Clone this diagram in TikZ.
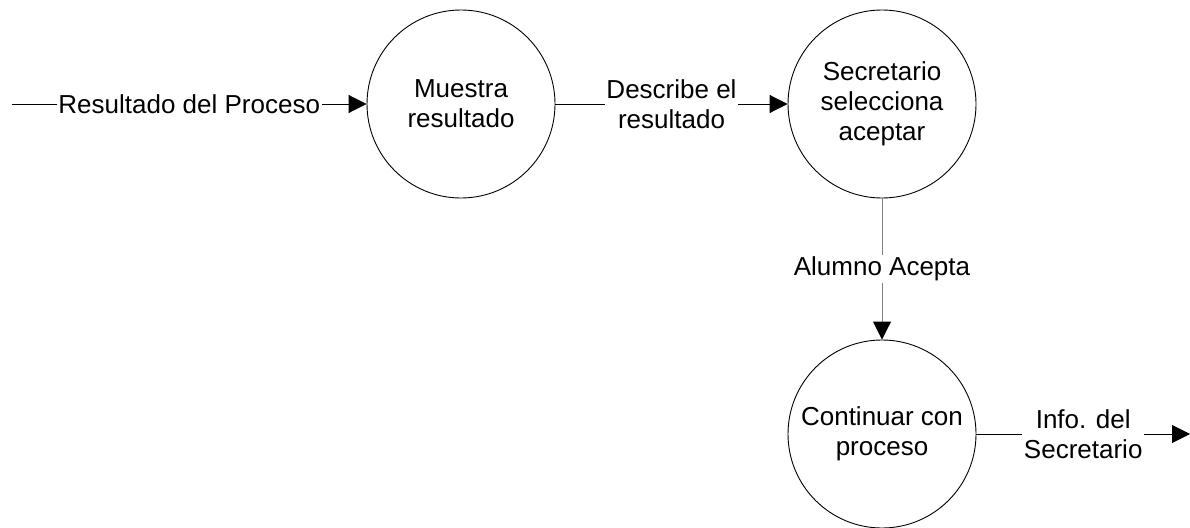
\documentclass[tikz,border=0pt]{standalone}
\usepackage{fontspec}
\setmainfont{Liberation Sans}
\usetikzlibrary{arrows.meta}
\begin{document}
\begin{tikzpicture}[x=1pt,y=-1pt,
  proc/.style={circle,draw,line width=0.9pt,minimum size=188pt,inner sep=0pt,align=center,font=\fontsize{26}{30}\selectfont},
  flow/.style={line width=0.9pt,-{Triangle[length=18pt,width=18pt,color=black,fill=black]}},
  lbl/.style={fill=white,inner sep=1.5pt,align=center,text=black,font=\fontsize{26}{30}\selectfont}]
\useasboundingbox (0,0) rectangle (1190,527);
\node[proc] (m) at (461,104) {Muestra\\resultado};
\node[proc] (s) at (882,104) {Secretario\\selecciona\\aceptar};
\node[proc] (c) at (882,434) {Continuar con\\proceso};
\coordinate (in) at (12,104);
\coordinate (out) at (1190,434);
\draw[flow] (in) -- node[lbl] {Resultado del Proceso} (m);
\draw[flow] (m) -- node[lbl] {Describe el\\resultado} (s);
\draw[flow,draw=gray] (s) -- node[lbl] {Alumno Acepta} (c);
\draw[flow] (c) -- node[lbl] {Info. del\\Secretario} (out);
\end{tikzpicture}
\end{document}
